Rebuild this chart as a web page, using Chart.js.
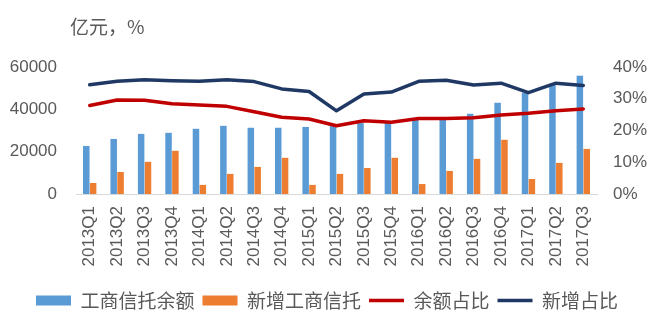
<!DOCTYPE html>
<html>
<head>
<meta charset="utf-8">
<script src="https://cdn.jsdelivr.net/npm/chart.js@4"></script>
<style>
  html, body { margin: 0; padding: 0; background: #fff; }
  #wrap { width: 654px; height: 326px; }
</style>
</head>
<body>
<div id="wrap"><canvas id="trust"></canvas></div>
<script>
const quarters = ['2013Q1', '2013Q2', '2013Q3', '2013Q4', '2014Q1', '2014Q2', '2014Q3', '2014Q4',
  '2015Q1', '2015Q2', '2015Q3', '2015Q4', '2016Q1', '2016Q2', '2016Q3', '2016Q4',
  '2017Q1', '2017Q2', '2017Q3'];
const balance = [22700, 26000, 28400, 28900, 30800, 32200, 31300, 31300, 31700, 32300,
  33500, 34000, 35500, 36000, 37900, 43100, 47800, 51800, 55900];
const newAdded = [5200, 10400, 15200, 20400, 4300, 9500, 12800, 17100, 4300, 9500,
  12300, 17100, 4700, 10900, 16600, 25600, 7100, 14700, 21300];
const balanceShare = [27.9, 29.6, 29.5, 28.4, 28.0, 27.6, 25.9, 24.2, 23.6, 21.5,
  23.1, 22.6, 23.8, 23.8, 24.0, 24.9, 25.4, 26.2, 26.8];
const newShare = [34.4, 35.5, 36.0, 35.7, 35.5, 36.0, 35.4, 33.1, 32.3, 26.2,
  31.5, 32.1, 35.5, 35.8, 34.3, 34.9, 31.9, 34.9, 34.2];
const leftTicks = [0, 20000, 40000, 60000];
const rightTicks = [0, 10, 20, 30, 40];

const grey = '#595959';
const fontFamily = '"Liberation Sans", "Noto Sans CJK SC", sans-serif';

// unit label in the top-left corner
const unitLabel = {
  id: 'unitLabel',
  afterDraw(chart) {
    const c = chart.ctx;
    c.save();
    c.fillStyle = grey;
    c.font = '19px "Noto Sans CJK SC", sans-serif';
    c.textBaseline = 'middle';
    c.fillText('亿元，%', 70, 27);
    c.restore();
  }
};

const ctx = document.getElementById('trust');

new Chart(ctx, {
  data: {
    labels: quarters,
    datasets: [{
      type: 'bar',
      label: '工商信托余额',
      data: balance,
      backgroundColor: '#5B9BD5',
      pointStyle: 'rect',
      yAxisID: 'y',
      order: 2,
      categoryPercentage: 0.5,
      barPercentage: 0.95
    }, {
      type: 'bar',
      label: '新增工商信托',
      data: newAdded,
      backgroundColor: '#ED7D31',
      pointStyle: 'rect',
      yAxisID: 'y',
      order: 2,
      categoryPercentage: 0.5,
      barPercentage: 0.95
    }, {
      type: 'line',
      label: '余额占比',
      data: balanceShare,
      borderColor: '#C00000',
      backgroundColor: '#C00000',
      borderWidth: 3.5,
      borderCapStyle: 'round',
      borderJoinStyle: 'round',
      pointRadius: 0,
      pointStyle: 'line',
      tension: 0,
      yAxisID: 'y1',
      order: 1
    }, {
      type: 'line',
      label: '新增占比',
      data: newShare,
      borderColor: '#1F3864',
      backgroundColor: '#1F3864',
      borderWidth: 3.5,
      borderCapStyle: 'round',
      borderJoinStyle: 'round',
      pointRadius: 0,
      pointStyle: 'line',
      tension: 0,
      yAxisID: 'y1',
      order: 1
    }]
  },
  options: {
    responsive: true,
    maintainAspectRatio: false,
    animation: false,
    layout: { padding: { top: 67, left: 0, right: 0, bottom: 6 } },
    plugins: {
      tooltip: { enabled: false },
      legend: {
        position: 'bottom',
        labels: {
          usePointStyle: true,
          pointStyleWidth: 35,
          boxHeight: 10,
          padding: 8,
          color: grey,
          font: { family: '"Noto Sans CJK SC", sans-serif', size: 19 },
          sort: (a, b) => a.datasetIndex - b.datasetIndex
        }
      }
    },
    scales: {
      x: {
        grid: { display: false, drawTicks: false },
        border: { display: true, color: '#D9D9D9', width: 1 },
        ticks: {
          autoSkip: false,
          minRotation: 90,
          maxRotation: 90,
          padding: 12,
          color: grey,
          font: { family: fontFamily, size: 17 }
        },
        afterFit(scale) { scale.height = 89; }
      },
      y: {
        position: 'left',
        min: 0,
        max: 60000,
        grid: { display: false, drawTicks: false },
        border: { display: false },
        afterBuildTicks(scale) { scale.ticks = leftTicks.map(v => ({ value: v })); },
        ticks: {
          padding: 19,
          color: grey,
          font: { family: fontFamily, size: 17 },
          callback: v => String(v)
        },
        afterFit(scale) { scale.width = 76; }
      },
      y1: {
        position: 'right',
        min: 0,
        max: 40,
        grid: { display: false, drawTicks: false },
        border: { display: false },
        afterBuildTicks(scale) { scale.ticks = rightTicks.map(v => ({ value: v })); },
        ticks: {
          padding: 16,
          color: grey,
          font: { family: fontFamily, size: 17 },
          callback: v => v + '%'
        },
        afterFit(scale) { scale.width = 57; }
      }
    }
  },
  plugins: [unitLabel]
});
</script>
</body>
</html>
